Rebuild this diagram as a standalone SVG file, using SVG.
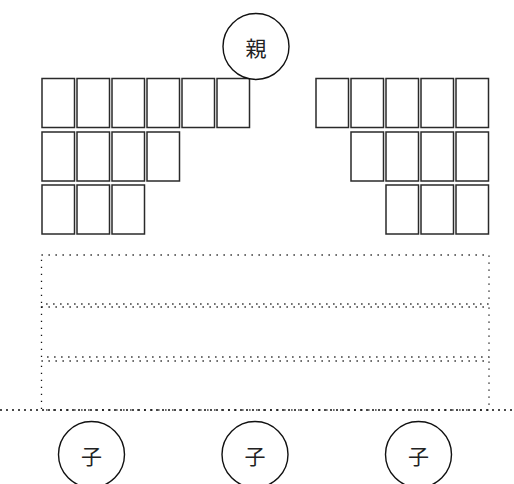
<svg xmlns="http://www.w3.org/2000/svg" width="514" height="484" viewBox="0 0 514 484">
<style>
.card{fill:#fff;stroke:#2a2a2a;stroke-width:1.5}
.zone{fill:none;stroke:#111;stroke-width:1.3;stroke-dasharray:1.3 5.7}
.floor{fill:none;stroke:#111;stroke-width:1.6;stroke-dasharray:2 4}
.node circle{fill:#fff;stroke:#111;stroke-width:1.4}
.node text{font-family:"Noto Sans CJK JP","Noto Sans CJK SC",sans-serif;font-size:21px;fill:#222;text-anchor:middle;dominant-baseline:central}
</style>
<rect width="514" height="484" fill="#fff"/>
<g id="zones">
<rect class="zone" x="41.5" y="255" width="447.5" height="49"/>
<rect class="zone" x="41.5" y="307" width="447.5" height="50"/>
<rect class="zone" x="41.5" y="361" width="447.5" height="49"/>
</g>
<g id="connectors">
<line class="floor" x1="0" y1="410" x2="514" y2="410"/>
</g>
<g id="hand-left">
<rect class="card" x="42" y="78.5" width="32.5" height="49"/>
<rect class="card" x="77" y="78.5" width="32.5" height="49"/>
<rect class="card" x="112" y="78.5" width="32.5" height="49"/>
<rect class="card" x="147" y="78.5" width="32.5" height="49"/>
<rect class="card" x="182" y="78.5" width="32.5" height="49"/>
<rect class="card" x="217" y="78.5" width="32.5" height="49"/>
<rect class="card" x="42" y="132" width="32.5" height="49"/>
<rect class="card" x="77" y="132" width="32.5" height="49"/>
<rect class="card" x="112" y="132" width="32.5" height="49"/>
<rect class="card" x="147" y="132" width="32.5" height="49"/>
<rect class="card" x="42" y="185" width="32.5" height="49"/>
<rect class="card" x="77" y="185" width="32.5" height="49"/>
<rect class="card" x="112" y="185" width="32.5" height="49"/>
</g>
<g id="hand-right">
<rect class="card" x="316" y="78.5" width="32.5" height="49"/>
<rect class="card" x="351" y="78.5" width="32.5" height="49"/>
<rect class="card" x="386" y="78.5" width="32.5" height="49"/>
<rect class="card" x="421" y="78.5" width="32.5" height="49"/>
<rect class="card" x="456" y="78.5" width="32.5" height="49"/>
<rect class="card" x="351" y="132" width="32.5" height="49"/>
<rect class="card" x="386" y="132" width="32.5" height="49"/>
<rect class="card" x="421" y="132" width="32.5" height="49"/>
<rect class="card" x="456" y="132" width="32.5" height="49"/>
<rect class="card" x="386" y="185" width="32.5" height="49"/>
<rect class="card" x="421" y="185" width="32.5" height="49"/>
<rect class="card" x="456" y="185" width="32.5" height="49"/>
</g>
<g id="parent" class="node">
<circle cx="256" cy="46.5" r="33"/>
<text x="256" y="46.5">親</text>
</g>
<g id="child1" class="node">
<circle cx="91.5" cy="454.5" r="33"/>
<text x="91.5" y="454.5">子</text>
</g>
<g id="child2" class="node">
<circle cx="255" cy="454.5" r="33"/>
<text x="255" y="454.5">子</text>
</g>
<g id="child3" class="node">
<circle cx="418.5" cy="454.5" r="33"/>
<text x="418.5" y="454.5">子</text>
</g>
</svg>
